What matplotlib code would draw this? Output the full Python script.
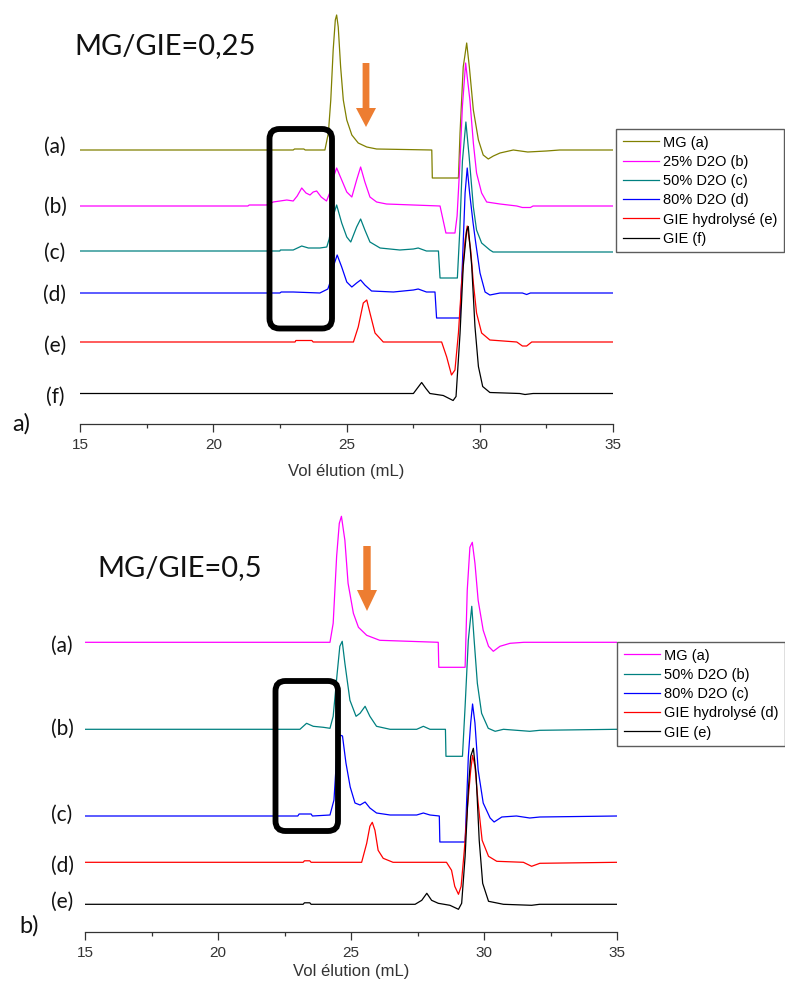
import numpy as np
import matplotlib
matplotlib.use("Agg")
import matplotlib.pyplot as plt
from matplotlib.patches import FancyBboxPatch, Polygon

# ---- data : elution volume (mL) / signal (arbitrary units, above each baseline) ----
# panel a) MG/GIE = 0,25
a_mg_x = [15.0, 23.0, 23.05, 23.4, 23.45, 24.19, 24.32, 24.41, 24.50, 24.58, 24.63, 24.69, 24.78,
          24.88, 25.01, 25.20, 25.44, 25.76, 26.13, 28.20, 28.22, 29.20, 29.26, 29.38, 29.51, 29.61,
          29.76, 29.95, 30.13, 30.32, 30.51, 30.76, 31.26, 31.8, 32.5, 33.0, 35.0]
a_mg_y = [0, 0, 1, 1, 0, 0, 17, 50, 100, 130, 135, 123, 83,
          50, 30, 15, 7, 3, 1, 0, -28, -28, 17, 83, 107, 83,
          40, 10, -5, -9, -6, -3, 0, -2, -1, 0, 0]

a_d25_x = [15.0, 21.3, 21.35, 22.0, 22.25, 22.76, 23.0, 23.15, 23.32, 23.48, 23.63, 23.75, 23.88,
           24.05, 24.25, 24.4, 24.5, 24.63, 24.82, 25.01, 25.20, 25.38, 25.53, 25.69, 25.88, 26.13,
           26.5, 28.51, 28.73, 29.07, 29.15, 29.25, 29.35, 29.47, 29.63, 29.76, 29.88, 30.07, 30.26,
           30.76, 31.39, 31.6, 31.9, 32.0, 35.0]
a_d25_y = [0, 0, 1, 1, 4, 6, 5, 10, 18, 13, 11, 14, 15,
           9, 5, 15, 28, 38, 26, 14, 9, 26, 39, 24, 9, 4,
           2, 0, -27, -27, -10, 40, 100, 143, 106, 63, 33, 13, 4,
           2, 0, -1.5, -1.5, 0, 0]

a_d50_x = [15.0, 22.5, 22.52, 22.75, 23.0, 23.32, 23.57, 24.0, 24.26, 24.35, 24.5, 24.63, 24.82,
           25.01, 25.16, 25.38, 25.53, 25.69, 25.88, 26.26, 27.0, 27.51, 27.69, 28.0, 28.45, 28.51,
           29.16, 29.25, 29.35, 29.48, 29.6, 29.76, 29.88, 30.07, 30.38, 30.5, 35.0]
a_d50_y = [0, 0, 1, 1, 1, 5, 3, 3, 4, 12, 35, 46, 28,
           14, 9, 24, 32, 21, 9, 3, 1, 2, 3, 0, 0, -27,
           -27, 20, 90, 129, 95, 44, 21, 8, 1, -1, -1]

a_d80_x = [15.0, 22.5, 22.55, 23.0, 24.0, 24.3, 24.44, 24.55, 24.65, 24.82, 25.01, 25.2, 25.38,
           25.53, 25.69, 25.94, 26.76, 27.51, 27.69, 28.0, 28.32, 28.38, 29.26, 29.35, 29.45, 29.53,
           29.62, 29.75, 29.85, 30.01, 30.2, 30.38, 30.76, 31.6, 31.76, 31.9, 35.0]
a_d80_y = [0, 0, 1, 1, 0, 4, 15, 30, 38, 26, 11, 6, 10,
           13, 8, 2, 1, 3, 4, 1, 1, -25, -25, 30, 100, 125,
           100, 70, 50, 20, 1, -2, 0, 0, -1.5, 0, 0]

a_hyd_x = [15.0, 23.07, 23.1, 23.7, 23.75, 25.26, 25.44, 25.63, 25.76, 25.88, 26.07, 26.38, 28.57,
           28.76, 28.94, 29.07, 29.2, 29.32, 29.45, 29.53, 29.66, 29.76, 29.88, 30.07, 30.38, 31.39,
           31.6, 31.76, 31.95, 35.0]
a_hyd_y = [0, 0, 1.5, 1.5, 0, 0, 15, 39, 42, 29, 9, 0, 0,
           -15, -33, -28, 9, 59, 102, 116, 92, 59, 29, 9, 2, 0,
           -4, -4, 0, 0]

a_gie_x = [15.0, 27.51, 27.65, 27.82, 27.98, 28.13, 28.63, 29.0, 29.11, 29.26, 29.38, 29.51, 29.57,
           29.7, 29.82, 29.95, 30.11, 30.38, 31.5, 31.7, 32.0, 35.0]
a_gie_y = [0, 0, 5, 11, 5, 0, -2, -7, -3, 60, 127, 163, 167,
           127, 67, 27, 7, 1, 0, -1, 0, 0]

# panel b) MG/GIE = 0,5
b_mg_x = [15.0, 24.21, 24.33, 24.46, 24.56, 24.64, 24.77, 24.89, 25.09, 25.28, 25.59, 26.08, 28.28,
          28.3, 29.29, 29.37, 29.47, 29.56, 29.66, 29.78, 29.97, 30.17, 30.35, 30.6, 30.98, 31.5, 35.0]
b_mg_y = [0, 0, 19, 86, 119, 126, 102, 59, 29, 15, 7, 2, 0,
          -25, -25, 52, 95, 100, 79, 42, 12, -4, -9, -4, -1, 0, 0]

b_d50_x = [15.0, 23.08, 23.33, 23.58, 23.96, 24.21, 24.33, 24.48, 24.58, 24.67, 24.77, 24.96, 25.19,
           25.34, 25.53, 25.71, 25.96, 26.47, 27.47, 27.72, 27.97, 28.55, 28.57, 29.19, 29.29, 29.41,
           29.54, 29.63, 29.75, 29.91, 30.16, 30.42, 30.73, 31.72, 32.1, 35.0]
b_d50_y = [0, 0, 6, 3, 2, 1, 13, 56, 83, 88, 66, 29, 13,
           16, 23, 13, 3, 0, 0, 3, 0, 0, -27, -27, 23, 89,
           123, 89, 46, 16, 1, -2, 0, -2, -1, 0]

b_d80_x = [15.0, 23.0, 23.05, 23.5, 23.55, 24.21, 24.36, 24.46, 24.58, 24.68, 24.81, 24.97, 25.15,
           25.34, 25.53, 25.71, 25.96, 26.47, 27.47, 27.72, 27.97, 28.32, 28.34, 29.29, 29.41, 29.5,
           29.57, 29.66, 29.78, 29.97, 30.23, 30.38, 30.67, 31.22, 31.72, 32.1, 35.0]
b_d80_y = [0, 0, 2, 2, 0, 1, 16, 59, 81, 80, 53, 29, 13,
           11, 14, 8, 3, 1, 1, 3, 1, 0, -26, -26, 59, 93,
           112, 93, 46, 13, -2, -6, -1, 0, -2, -1, 0]

b_hyd_x = [15.0, 23.2, 23.25, 23.45, 23.5, 25.4, 25.59, 25.71, 25.8, 25.9, 26.02, 26.21, 26.58,
           28.59, 28.78, 28.9, 29.04, 29.14, 29.26, 29.38, 29.5, 29.57, 29.66, 29.78, 29.93, 30.17,
           30.48, 31.48, 31.79, 32.1, 35.0]
b_hyd_y = [0, 0, 1.5, 1.5, 0, 0, 19, 36, 40, 32, 12, 4, 0,
           0, -8, -24, -32, -24, 12, 56, 92, 107, 96, 59, 22, 6,
           1, 0, -4, -1, 0]

b_gie_x = [15.0, 23.2, 23.25, 23.45, 23.5, 27.41, 27.66, 27.85, 28.03, 28.28, 28.72, 29.04, 29.16,
           29.29, 29.41, 29.5, 29.6, 29.7, 29.82, 29.95, 30.17, 30.73, 31.79, 32.09, 35.0]
b_gie_y = [0, 0, 1.5, 1.5, 0, 0, 4, 11, 4, 1, -1, -5, 1,
           48, 114, 148, 156, 131, 64, 21, 3, 0, -1, 0, 0]

top_series = [(a_mg_x, a_mg_y), (a_d25_x, a_d25_y), (a_d50_x, a_d50_y),
              (a_d80_x, a_d80_y), (a_hyd_x, a_hyd_y), (a_gie_x, a_gie_y)]
top_labels = ["MG (a)", "25% D2O (b)", "50% D2O (c)", "80% D2O (d)", "GIE hydrolysé (e)", "GIE (f)"]
top_tags = ["(a)", "(b)", "(c)", "(d)", "(e)", "(f)"]
top_offsets = [274, 218, 173, 131, 82, 30.5]
top_colors = ["#808000", "#ff00ff", "#008080", "#0000ff", "#ff0000", "#000000"]

bot_series = [(b_mg_x, b_mg_y), (b_d50_x, b_d50_y), (b_d80_x, b_d80_y),
              (b_hyd_x, b_hyd_y), (b_gie_x, b_gie_y)]
bot_labels = ["MG (a)", "50% D2O (b)", "80% D2O (c)", "GIE hydrolysé (d)", "GIE (e)"]
bot_tags = ["(a)", "(b)", "(c)", "(d)", "(e)"]
bot_offsets = [289.7, 202.7, 116, 69.7, 27.7]
bot_colors = ["#ff00ff", "#008080", "#0000ff", "#ff0000", "#000000"]

ticks = [15, 20, 25, 30, 35]
tick_labels = ["15", "20", "25", "30", "35"]

W, H = 785, 989
fig = plt.figure(figsize=(W / 100, H / 100), dpi=100)


def make_axes(left, right, spine_y, height, xlabel_pad):
    ax = fig.add_axes([left / W, 1 - spine_y / H, (right - left) / W, height / H])
    ax.set_xlim(15, 35)
    ax.set_ylim(0, height)
    for s in ["top", "right", "left"]:
        ax.spines[s].set_visible(False)
    ax.spines["bottom"].set_linewidth(0.9)
    ax.spines["bottom"].set_color("#333333")
    ax.set_yticks([])
    ax.set_xticks(ticks)
    ax.set_xticklabels(tick_labels, fontsize=11, family="Liberation Sans", color="#333333")
    ax.set_xticks([17.5, 22.5, 27.5, 32.5], minor=True)
    ax.tick_params(axis="x", which="major", direction="out", length=6, width=0.9,
                   color="#333333", pad=4)
    ax.tick_params(axis="x", which="minor", direction="out", length=3, width=0.9, color="#333333")
    ax.set_xlabel("Vol élution (mL)", fontsize=12, family="Liberation Sans",
                  color="#333333", labelpad=xlabel_pad)
    ax.patch.set_alpha(0)
    return ax


ax1 = make_axes(80, 613, 424, 419, 9)
ax2 = make_axes(85, 617, 932, 440, 3)

h1 = []
for (x, y), off, c, lab in zip(top_series, top_offsets, top_colors, top_labels):
    ln, = ax1.plot(x, np.array(y) + off, color=c, lw=0.9, label=lab)
    h1.append(ln)
h2 = []
for (x, y), off, c, lab in zip(bot_series, bot_offsets, bot_colors, bot_labels):
    ln, = ax2.plot(x, np.array(y) + off, color=c, lw=0.9, label=lab)
    h2.append(ln)

leg_kw = dict(loc="upper left", borderaxespad=0, fancybox=False, handlelength=2.5,
              handletextpad=0.3, labelspacing=0.36, borderpad=0.45,
              prop={"family": "Liberation Sans", "size": 10.5})
lg1 = fig.legend(h1, top_labels, bbox_to_anchor=(616 / W, 1 - 129 / H), **leg_kw)
lg2 = fig.legend(h2, bot_labels, bbox_to_anchor=(617 / W, 1 - 642 / H), **leg_kw)
for lg in (lg1, lg2):
    lg.get_frame().set_edgecolor("#333333")
    lg.get_frame().set_linewidth(1.0)

# overlay in pixel coordinates for annotations
ov = fig.add_axes([0, 0, 1, 1])
ov.set_xlim(0, W)
ov.set_ylim(H, 0)
ov.axis("off")
ov.patch.set_alpha(0)

txt = dict(family=["Lato", "DejaVu Sans"], color="#111111", ha="center", va="center")
ov.text(165, 46, "MG/GIE=0,25", fontsize=21, **txt)
ov.text(180, 568, "MG/GIE=0,5", fontsize=21, **txt)
ov.text(21, 424, "a)", fontsize=17, **txt)
ov.text(29, 926, "b)", fontsize=17, **txt)

for tag, y in zip(top_tags, [147, 207, 253, 295, 346, 397]):
    ov.text(55, y, tag, fontsize=15, **txt)
for tag, y in zip(bot_tags, [646, 729, 815, 866, 902]):
    ov.text(62, y, tag, fontsize=15, **txt)

# highlight boxes
for (x0, y0, x1, y1) in [(269.5, 129, 332, 328.5), (275.5, 681, 338, 831)]:
    ov.add_patch(FancyBboxPatch((x0, y0), x1 - x0, y1 - y0,
                                boxstyle="round,pad=0,rounding_size=10",
                                fc="none", ec="black", lw=4.2, zorder=10))

# orange arrows
orange = "#ed7d31"
for (cx, ytop, ybase, ytip, half_shaft, half_head) in [(366, 63, 108, 127, 3.4, 10),
                                                          (367, 546, 590, 611, 3.7, 10)]:
    pts = [(cx - half_shaft, ytop), (cx + half_shaft, ytop), (cx + half_shaft, ybase),
           (cx + half_head, ybase), (cx, ytip), (cx - half_head, ybase), (cx - half_shaft, ybase)]
    ov.add_patch(Polygon(pts, closed=True, fc=orange, ec="none", zorder=10))

fig.savefig("out.png", dpi=100)
